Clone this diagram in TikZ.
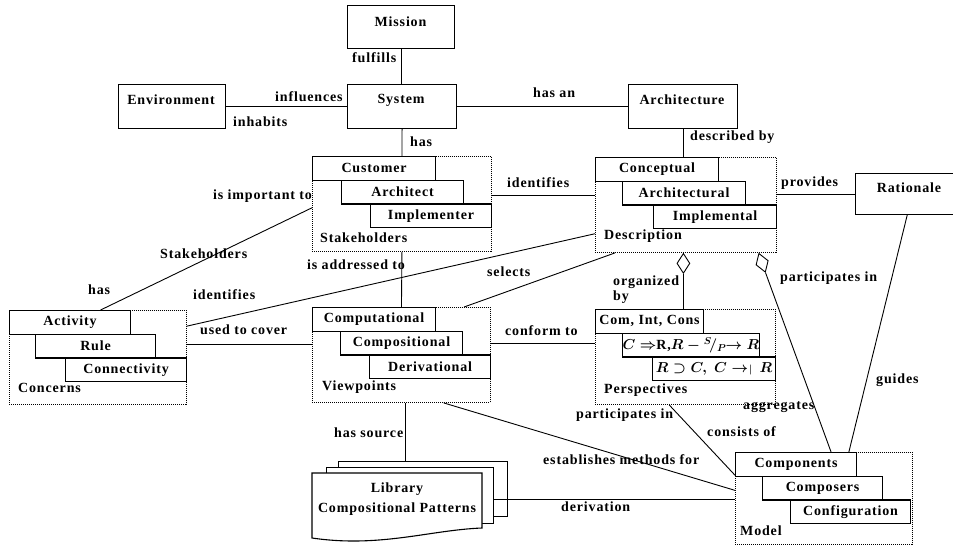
\documentclass[tikz,border=0pt]{standalone}
\usepackage{amssymb}
\usepackage{fontspec}
\setmainfont{Liberation Serif}[LetterSpace=6]
\usetikzlibrary{calc,shapes.geometric}
\begin{document}
\begin{tikzpicture}[x=1pt,y=-1pt,
  font=\fontsize{14}{16}\selectfont\bfseries,
  sbox/.style={draw,line width=1.1pt,fill=white,anchor=north west,inner sep=0pt},
  cont/.style={draw,line width=0.9pt,dash pattern=on 1pt off 1pt,anchor=north west,inner sep=0pt},
  tab/.style={draw,line width=1.1pt,fill=white,anchor=north west,inner sep=0pt,minimum height=23.7pt},
  mtab/.style={tab,font=\fontsize{14}{16}\selectfont\bfseries\boldmath},
  docb/.style={draw,line width=1.1pt,fill=white,anchor=north west,inner sep=0pt},
  txt/.style={inner sep=0pt},
  lbl/.style={anchor=west,inner sep=0pt},
  conn/.style={line width=0.9pt},
  diam/.style={diamond,draw,line width=0.9pt,fill=white,minimum width=13pt,minimum height=20pt,inner sep=0pt,anchor=north},
]
\useasboundingbox (0,0) rectangle (953,546);
\fill[white] (0,0) rectangle (953,546);

% simple boxes
\node[sbox,minimum width=107pt,minimum height=43pt] (mission) at (347,5) {};
\node[txt] (missiont) at (400.5,22) {Mission};
\node[sbox,minimum width=109pt,minimum height=44pt] (system) at (347,84) {};
\node[txt] (systemt) at (401,100) {System};
\node[sbox,minimum width=107pt,minimum height=44pt] (env) at (118,84) {};
\node[txt] (envt) at (171,100) {Environment};
\node[sbox,minimum width=109pt,minimum height=44pt] (arch) at (628,84) {};
\node[txt] (archt) at (682,100) {Architecture};
\node[sbox,minimum width=110pt,minimum height=41pt] (rat) at (855,173) {};
\node[txt] (ratt) at (909,188) {Rationale};

% Stakeholders
\node[cont,minimum width=179pt,minimum height=95pt] (stake) at (312,156) {};
\node[tab,minimum width=123pt] (cust) at (312,156) {Customer};
\node[tab,minimum width=122pt] (archi) at (341,179.7) {Architect};
\node[tab,minimum width=121pt] (impl) at (370,203.4) {Implementer};
\node[lbl] (stakel) at (320,238) {Stakeholders};

% Description
\node[cont,minimum width=181pt,minimum height=95pt] (desc) at (595,157) {};
\node[tab,minimum width=123pt] (conc1) at (595,157) {Conceptual};
\node[tab,minimum width=123pt] (archl) at (622,180.7) {Architectural};
\node[tab,minimum width=123pt] (implm) at (653,204.4) {Implemental};
\node[lbl] (descl) at (604,236) {Description};

% Concerns
\node[cont,minimum width=177pt,minimum height=94pt] (conc) at (9,310) {};
\node[tab,minimum width=121pt] (act) at (9,310) {Activity};
\node[tab,minimum width=120pt] (rule) at (35,333.7) {Rule};
\node[tab,minimum width=121pt] (connv) at (65,357.4) {Connectivity};
\node[lbl] (concl) at (18,388) {Concerns};

% Viewpoints
\node[cont,minimum width=178pt,minimum height=95pt] (view) at (312,307) {};
\node[tab,minimum width=123pt] (comp) at (312,307) {Computational};
\node[tab,minimum width=122pt] (compo) at (340,330.7) {Compositional};
\node[tab,minimum width=121pt] (deriv) at (369,354.4) {Derivational};
\node[lbl] (viewl) at (322,387) {Viewpoints};

% Perspectives
\node[cont,minimum width=180pt,minimum height=95pt] (persp) at (595,309) {};
\node[tab,minimum width=108pt] (cic) at (595,309) {Com, Int, Cons};
\node[mtab,minimum width=123pt] (form1) at (622,332.7) {$C\Rightarrow$R,$R-{}^{S}\!/_{P}\!\!\rightarrow R$};
\node[mtab,minimum width=123pt] (form2) at (652,356.4) {$R\supset C,\ C\mathrel{\rightarrow\mkern-4mu{\scriptstyle|}}\,R$};
\node[lbl] (perspl) at (604,390) {Perspectives};

% Model
\node[cont,minimum width=177pt,minimum height=92pt] (model) at (735,452) {};
\node[tab,minimum width=121pt] (compn) at (735,452) {Components};
\node[tab,minimum width=120pt] (compr) at (762,475.7) {Composers};
\node[tab,minimum width=120pt] (config) at (790,499.4) {Configuration};
\node[lbl] (modell) at (740,531) {Model};

% Library documents
\node[docb,minimum width=169pt,minimum height=55pt] (doc3) at (338,461) {};
\node[docb,minimum width=167pt,minimum height=56pt] (doc2) at (326,467) {};
\draw[line width=1.1pt,fill=white] (312,473) -- (482,473) -- (482,528)
  .. controls (430,530) and (380,548) .. (312,538) -- cycle;
\node[txt,align=center,font=\fontsize{14}{20}\selectfont\bfseries] (lib) at (397,499) {Library\\Compositional Patterns};

% diamonds
\node[diam] (dia1) at ($(desc.south west)!0.486!(desc.south east)$) {};
\node[diam,rotate=19] (dia2) at ($(desc.south west)!0.9!(desc.south east)$) {};

% connector labels
\node[lbl] (l1) at (352,58) {fulfills};
\node[lbl] (l2) at (275,97) {influences};
\node[lbl] (l3) at (233,122) {inhabits};
\node[lbl] (l4) at (533,93) {has an};
\node[lbl] (l5) at (690,137) {described by};
\node[lbl] (l6) at (781,183) {provides};
\node[lbl] (l7) at (410,142) {has};
\node[lbl] (l8) at (507,183) {identifies};
\node[lbl] (l9) at (213,196) {is important to};
\node[lbl] (l10) at (160,254) {Stakeholders};
\node[lbl] (l11) at (88,290) {has};
\node[lbl] (l12) at (193,295) {identifies};
\node[lbl] (l13) at (307,265) {is addressed to};
\node[lbl] (l14) at (487,272) {selects};
\node[lbl] (l15) at (613,282) {organized};
\node[lbl] (l15b) at (613,297) {by};
\node[lbl] (l16) at (780,278) {participates in};
\node[lbl] (l17) at (200,330) {used to cover};
\node[lbl] (l18) at (505,331) {conform to};
\node[lbl] (l19) at (876,380) {guides};
\node[lbl] (l20) at (743,407) {aggregates};
\node[lbl] (l21) at (576,415) {participates in};
\node[lbl] (l22) at (707,432) {consists of};
\node[lbl] (l23) at (334,433) {has source};
\node[lbl] (l24) at (543,460) {establishes methods for};
\node[lbl] (l25) at (561,507) {derivation};

% connector end points
\coordinate (sdR) at ($(stake.north east)!0.41!(stake.south east)$);
\coordinate (stW) at ($(stake.north west)!0.54!(stake.south west)$);
\coordinate (actN) at ($(act.north west)!0.75!(act.north east)$);
\coordinate (dsW) at ($(desc.north west)!0.8!(desc.south west)$);
\coordinate (ccE) at ($(conc.north east)!0.17!(conc.south east)$);
\coordinate (dsS) at ($(desc.south west)!0.11!(desc.south east)$);
\coordinate (vwN) at ($(view.north west)!0.85!(view.north east)$);
\coordinate (vwW) at ($(view.north west)!0.39!(view.south west)$);
\coordinate (psW) at ($(persp.north west)!0.36!(persp.south west)$);
\coordinate (mdA) at ($(model.north west)!0.54!(model.north east)$);
\coordinate (rtS) at ($(rat.south west)!0.47!(rat.south east)$);
\coordinate (mdG) at ($(model.north west)!0.64!(model.north east)$);
\coordinate (psS) at ($(persp.south west)!0.41!(persp.south east)$);
\coordinate (mdP) at ($(model.north west)!0.25!(model.south west)$);
\coordinate (vwS) at ($(view.south west)!0.52!(view.south east)$);
\coordinate (vwS2) at ($(view.south west)!0.736!(view.south east)$);
\coordinate (mdE) at ($(model.north west)!0.413!(model.south west)$);
\coordinate (mdD) at ($(model.north west)!0.511!(model.south west)$);

% connectors
\draw[conn] (mission.south) -- (mission.south |- system.north);
\draw[conn] (env.east) -- (system.west);
\draw[conn] (system.east) -- (arch.west);
\draw[conn] (arch.south) -- (arch.south |- desc.north);
\draw[conn] (system.south) -- (stake.north);
\draw[conn] (sdR) -- (sdR -| desc.west);
\draw[conn] (rat.west) -- (rat.west -| desc.east);
\draw[conn] (stW) -- (actN);
\draw[conn] (dsW) -- (ccE);
\draw[conn] (dsS) -- (vwN);
\draw[conn] (stake.south) -- (view.north);
\draw[conn] (vwW -| conc.east) -- (vwW);
\draw[conn] (psW -| view.east) -- (psW);
\draw[conn] (dia1.south) -- (dia1.south |- persp.north);
\draw[conn] (dia2.south) -- (mdA);
\draw[conn] (rtS) -- (mdG);
\draw[conn] (psS) -- (mdP);
\draw[conn] (vwS) -- (vwS |- doc3.north);
\draw[conn] (vwS2) -- (mdE);
\draw[conn] (mdD -| doc2.east) -- (mdD);
\end{tikzpicture}
\end{document}
